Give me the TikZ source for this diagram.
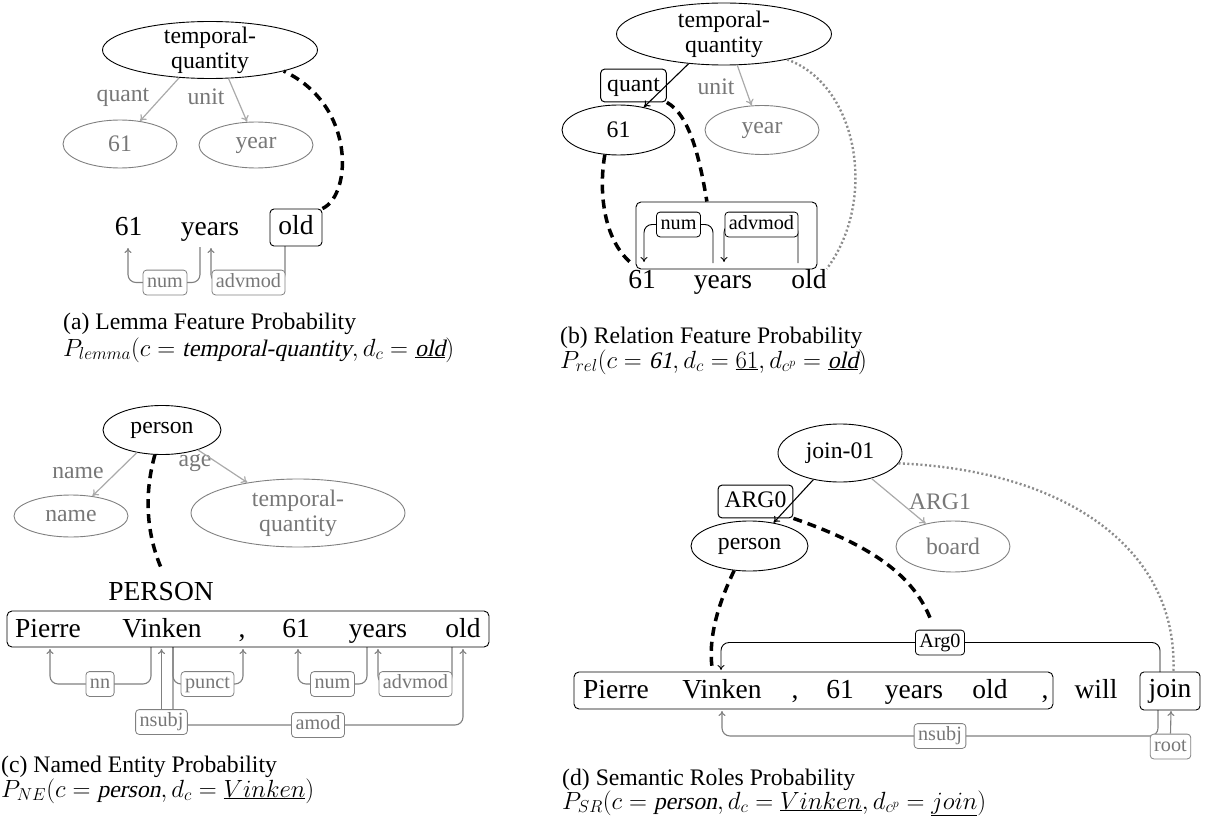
\documentclass[tikz,border=0pt]{standalone}
\usepackage[no-math]{fontspec}
\setmainfont{Liberation Serif}
\newfontfamily\slantfont{Liberation Serif}[FakeSlant=0.22]
\usepackage{graphicx}
\usetikzlibrary{shapes.geometric,arrows.meta}
\definecolor{edgegray}{HTML}{AAAAAA}
\definecolor{depgray}{HTML}{808080}
\definecolor{txtgray}{HTML}{777777}
\definecolor{dotgray}{HTML}{8C8C8C}
\newcommand\FBig{\fontsize{27.5}{30}\selectfont}
\newcommand\FNorm{\fontsize{23.7}{25}\selectfont}
\newcommand\FSmall{\fontsize{20.2}{22}\selectfont}
\newcommand\itw[1]{\mbox{\slantfont #1}}
\pgfdeclarelayer{bg}
\pgfsetlayers{bg,main}
\tikzset{
 amr/.style={ellipse, draw, line width=0.9pt, inner sep=0pt, font=\FNorm, align=center},
 amrg/.style={amr, draw=depgray, text=txtgray},
 wordn/.style={font=\FBig, inner sep=0pt, anchor=base, text height=19pt, text depth=6pt},
 wbox/.style={draw, rounded corners=4pt, line width=0.9pt, font=\FBig, text height=19pt, text depth=6pt, inner sep=0pt},
 sbox/.style={draw, rounded corners=5pt, line width=0.9pt, inner sep=0pt},
 deplbl/.style={draw=depgray, text=txtgray, fill=white, rounded corners=3.5pt, font=\FSmall, inner xsep=4pt, inner ysep=3.2pt, text height=14pt, text depth=4.4pt, line width=0.8pt},
 blklbl/.style={deplbl, draw=black, text=black},
 rellbl/.style={draw, fill=white, rounded corners=4pt, font=\FNorm, inner xsep=6.5pt, inner ysep=5.5pt, text height=16.6pt, text depth=5.2pt, line width=1pt},
 edgelbl/.style={font=\FNorm, text=txtgray, inner sep=0pt},
 grayedge/.style={draw=edgegray, line width=1.2pt, -{To[length=6pt,width=8pt]}},
 blackedge/.style={draw=black, line width=1.1pt, -{To[length=6pt,width=8pt]}},
 deparrow/.style={draw=depgray, line width=1.1pt, rounded corners=8pt, -{To[length=5pt,width=7pt]}},
 blkarrow/.style={draw=black, line width=0.9pt, rounded corners=8pt, -{To[length=5pt,width=7pt]}},
 alignlink/.style={draw=black, line width=3.5pt, dash pattern=on 9pt off 6pt},
 dotlink/.style={draw=dotgray, line width=2.4pt, dash pattern=on 2pt off 2.4pt},
 captxt/.style={font=\FNorm, anchor=base west, inner sep=0pt},
 tqlabel/.style={font=\FNorm, align=center, inner sep=0pt},
}
\begin{document}
\begin{tikzpicture}[x=1pt,y=-1pt]
\useasboundingbox (0,0) rectangle (1210,832);

% ---------------- panel (a) ----------------
\node[amr, minimum width=215, minimum height=57, label={[tqlabel]center:temporal-\\quantity}] (TQa) at (210,50) {};
\node[amrg, minimum width=114, minimum height=48] (n61a) at (120,144) {61};
\node[amrg, minimum width=114, minimum height=46] (yeara) at (256,145) {year};
\node[edgelbl] (lquanta) at (123,97) {quant};
\node[edgelbl] (lunita) at (206,97) {unit};
\node[wordn] (w61a) at (128.5,235) {61};
\node[wordn] (wyearsa) at (210,235) {years};
\node[wbox, minimum width=52, minimum height=37] (wolda) at (296,227.5) {old};
\node[deplbl] (numa) at (165,282.5) {num};
\node[deplbl] (advmoda) at (248.5,282.5) {advmod};
\coordinate (ca1) at (200,247);
\coordinate (ca2) at (128,248);
\coordinate (ca3) at (285,246);
\coordinate (ca4) at (211,248);
\node[captxt] (capa1) at (63,329) {(a) Lemma Feature Probability};
\node[captxt] (capa2) at (63,356) {$P_{lemma}(c = \itw{temporal-quantity}, d_c = \underline{\itw{old}})$};

\draw[grayedge] (TQa.222) -- (n61a.49);
\draw[grayedge] (TQa.303) -- (yeara.111);
\draw[alignlink] (wolda.north east) .. controls (352,195) and (356,105) .. (TQa.344);
\begin{pgfonlayer}{bg}
\draw[deparrow] (ca1) |- (numa.center) -| (ca2);
\draw[deparrow] (ca3) |- (advmoda.center) -| (ca4);
\end{pgfonlayer}

% ---------------- panel (b) ----------------
\node[amr, minimum width=215, minimum height=62, label={[tqlabel]center:temporal-\\quantity}] (TQb) at (724,34) {};
\node[rellbl] (quantb) at (633.5,85.5) {quant};
\node[amr, minimum width=113, minimum height=50] (n61b) at (618.5,130) {61};
\node[amrg, minimum width=114, minimum height=49] (yearb) at (762,130) {year};
\node[edgelbl] (lunitb) at (716,87) {unit};
\node[sbox, minimum width=181, minimum height=67] (rbox) at (726.5,235.5) {};
\node[blklbl] (numb) at (678.5,224.5) {num};
\node[blklbl] (advb) at (761.5,224.5) {advmod};
\node[wordn] (w61b) at (642,288) {61};
\node[wordn] (wyearsb) at (723,288) {years};
\node[wordn] (woldb) at (809,288) {old};
\coordinate (cb1) at (713,263);
\coordinate (cb2) at (644,262);
\coordinate (cb3) at (798,263);
\coordinate (cb4) at (724,262);
\coordinate (cb5) at (630,262);
\node[captxt] (capb1) at (560,343) {(b) Relation Feature Probability};
\node[captxt] (capb2) at (560,368) {$P_{rel}(c = \itw{61}, d_c = \underline{61}, d_{c^p} = \underline{\itw{old}})$};

\draw[blackedge] (TQb.220) -- (n61b.42);
\draw[grayedge] (TQb.293) -- (yearb.113);
\draw[dotlink] (TQb.338) .. controls (858,85) and (878,200) .. (woldb.north east);
\draw[alignlink] (n61b.241) .. controls (598,195) and (605,240) .. (cb5);
\draw[alignlink] (quantb.south east) .. controls (690,115) and (700,160) .. (rbox.120);
\begin{pgfonlayer}{bg}
\draw[blkarrow] (cb1) |- (numb.center) -| (cb2);
\draw[blkarrow] (cb3) |- (advb.center) -| (cb4);
\end{pgfonlayer}

% ---------------- panel (c) ----------------
\node[amr, minimum width=118, minimum height=49] (personc) at (162,430) {person};
\node[amrg, minimum width=114, minimum height=42] (namec) at (71,516) {name};
\node[amrg, minimum width=214, minimum height=68, label={[tqlabel, text=txtgray]center:temporal-\\quantity}] (TQc) at (298,513) {};
\node[edgelbl] (lnamec) at (78,473) {name};
\node[edgelbl] (lagec) at (195,463) {age};
\node[font=\FBig, anchor=base, inner sep=0pt] (PERc) at (161,600) {PERSON};
\node[sbox, minimum width=482, minimum height=36] (sentc) at (248,629) {};
\node[wordn] (wpiec) at (48,637) {Pierre};
\node[wordn] (wvinc) at (162,637) {Vinken};
\node[wordn] (wcomc) at (242,637) {,};
\node[wordn] (w61c) at (296,637) {61};
\node[wordn] (wyrsc) at (378,637) {years};
\node[wordn] (woldc) at (463,637) {old};
\node[deplbl] (nnc) at (100,684) {nn};
\node[deplbl] (punctc) at (207.5,684) {punct};
\node[deplbl] (numc) at (332.5,684) {num};
\node[deplbl] (advc) at (415.5,684) {advmod};
\node[deplbl] (nsubjc) at (161.5,722) {nsubj};
\node[deplbl] (amodc) at (318,725) {amod};
\coordinate (cc1) at (151,647);
\coordinate (cc2) at (50,649);
\coordinate (cc3) at (173,647);
\coordinate (cc4) at (243,649);
\coordinate (cc5) at (367,647);
\coordinate (cc6) at (298,649);
\coordinate (cc7) at (452,647);
\coordinate (cc8) at (378,649);
\coordinate (cc9) at (463,649);
\coordinate (cc10) at (161.5,649);
\node[captxt] (capc1) at (1,772) {(c) Named Entity Probability};
\node[captxt] (capc2) at (1,797) {$P_{NE}(c = \itw{person}, d_c = \underline{Vinken})$};

\draw[grayedge] (personc.222) -- (namec.43);
\draw[grayedge] (personc.331) -- (TQc.149);
\draw[alignlink] (personc.254) .. controls (145,490) and (145,530) .. ([yshift=14pt]PERc.north);
\begin{pgfonlayer}{bg}
\draw[deparrow] (cc1) |- (nnc.center) -| (cc2);
\draw[deparrow] (cc3) |- (punctc.center) -| (cc4);
\draw[deparrow] (cc5) |- (numc.center) -| (cc6);
\draw[deparrow] (cc7) |- (advc.center) -| (cc8);
\draw[deparrow] (cc3) |- (amodc.center) -| (cc9);
\draw[deparrow] (nsubjc.north) -- (cc10);
\end{pgfonlayer}

% ---------------- panel (d) ----------------
\node[amr, minimum width=124, minimum height=58] (joind) at (840,453) {join-01};
\node[rellbl] (ARG0d) at (755.5,501.5) {ARG0};
\node[amr, minimum width=117, minimum height=50] (persond) at (749.5,546) {person};
\node[amrg, minimum width=114, minimum height=51] (boardd) at (953,546.5) {board};
\node[edgelbl] (larg1d) at (940,502) {ARG1};
\node[sbox, minimum width=479, minimum height=37] (sentd) at (813.5,690.5) {};
\node[wordn] (wpied) at (616,698) {Pierre};
\node[wordn] (wvind) at (722,698) {Vinken};
\node[wordn] (wcom1d) at (795,698) {,};
\node[wordn] (w61d) at (840,698) {61};
\node[wordn] (wyrsd) at (914,698) {years};
\node[wordn] (woldd) at (990,698) {old};
\node[wordn] (wcom2d) at (1045,698) {,};
\node[wordn] (wwilld) at (1096,698) {will};
\node[wbox, minimum width=60, minimum height=38] (joinbox) at (1170,691) {join};
\node[blklbl] (arg0d) at (940,642.5) {Arg0};
\node[deplbl] (nsubjd) at (940,736) {nsubj};
\node[deplbl] (rootd) at (1170.5,746.5) {root};
\coordinate (cd1) at (1160,672);
\coordinate (cd2) at (721,670);
\coordinate (cd3) at (1158,710);
\coordinate (cd4) at (722,711);
\coordinate (cd5) at (1171,711);
\coordinate (cd6) at (712,667);
\coordinate (cd7) at (932,623);
\node[captxt] (capd1) at (562,785) {(d) Semantic Roles Probability};
\node[captxt] (capd2) at (562,809) {$P_{SR}(c = \itw{person}, d_c = \underline{Vinken}, d_{c^p} = \underline{join})$};

\draw[blackedge] (joind.225) -- (persond.44);
\draw[grayedge] (joind.321) -- (boardd.140);
\draw[dotlink] (joind.350) .. controls (1060,470) and (1178,545) .. (joinbox.80);
\draw[alignlink] (persond.238) .. controls (720,600) and (708,635) .. (cd6);
\draw[alignlink] (ARG0d.south east) .. controls (870,545) and (915,575) .. (cd7);
\begin{pgfonlayer}{bg}
\draw[blkarrow] (cd1) |- (arg0d.center) -| (cd2);
\draw[deparrow] (cd3) |- (nsubjd.center) -| (cd4);
\draw[deparrow] (rootd.north) -- (cd5);
\end{pgfonlayer}
\end{tikzpicture}
\end{document}
